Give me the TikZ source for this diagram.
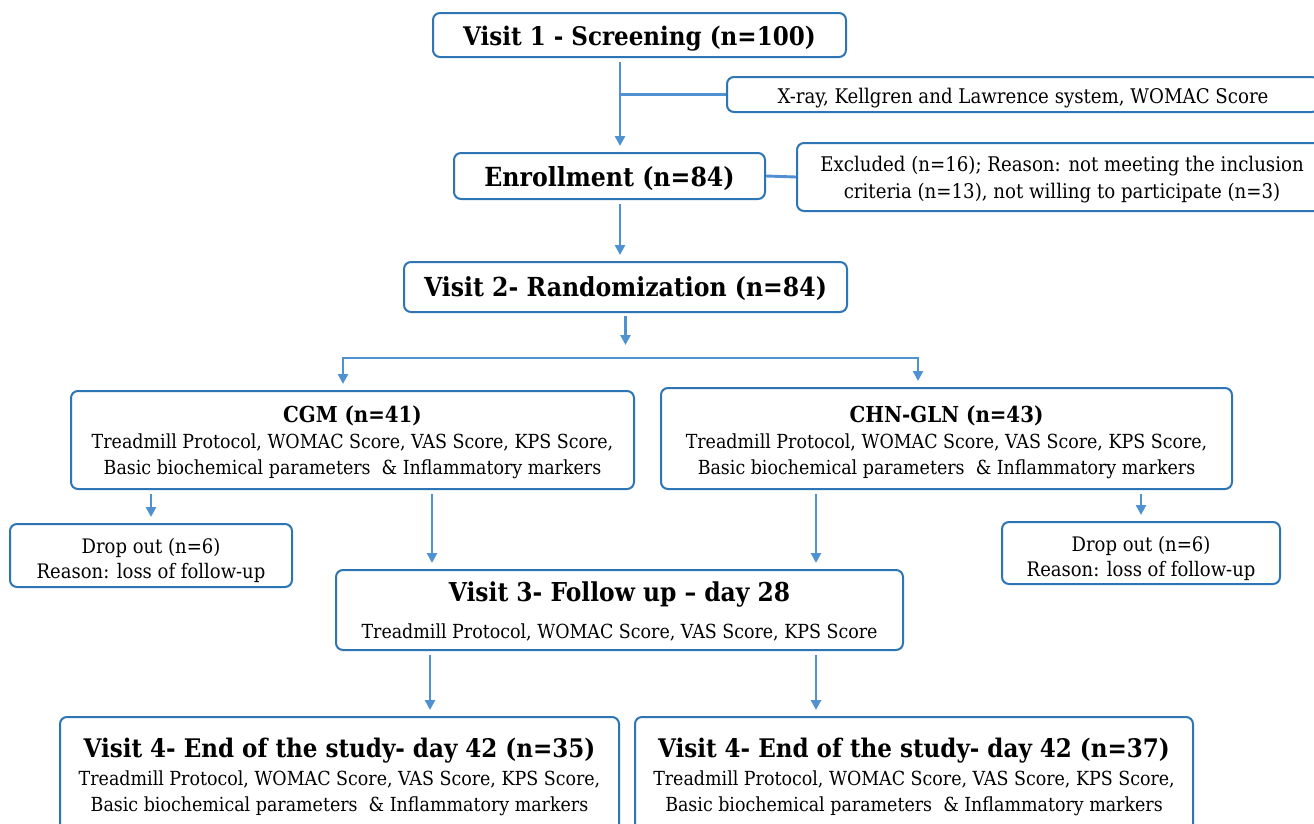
\documentclass[tikz,border=0pt]{standalone}
\usepackage{fontspec}
\setmainfont{DejaVu Serif Condensed}
\usetikzlibrary{arrows.meta}
\definecolor{bd}{RGB}{46,117,182}
\definecolor{ar}{RGB}{80,145,210}
\newcommand\dnstrut[1]{\rule{0pt}{#1}}
\begin{document}
\begin{tikzpicture}[x=1pt,y=-1pt,
  box/.style={draw=bd, line width=2pt, rounded corners=7pt, align=center, inner sep=0pt, fill=white},
  down/.style={execute at begin node={\rule{0pt}{#1}}},
  conn/.style={draw=ar, line width=2.9pt},
  tip/.tip={Triangle[length=10pt,width=10pt]},
  arr/.style={conn, -tip, shorten <=4pt, shorten >=6pt},
  big/.style={font=\fontsize{25.6}{30}\selectfont\bfseries},
  body/.style={font=\fontsize{19.4}{26}\selectfont}]
\clip (0,0) rectangle (1314,823);
% helper x positions
\coordinate (x620) at (620,0);
\coordinate (x432) at (432,0);
\coordinate (x816) at (816,0);
\coordinate (x430) at (430,0);
% boxes
\node[box, big, down=27.5pt, minimum width=413pt, minimum height=44pt] (v1) at (639.5,35) {Visit 1 - Screening (n=100)};
\node[box, body, font=\fontsize{20.2}{26}\selectfont, down=23pt, minimum width=592pt, minimum height=35pt] (xr) at (1023,94.5) {X-ray, Kellgren and Lawrence system, WOMAC Score};
\node[box, big, font=\fontsize{26.3}{30}\selectfont\bfseries, down=26pt, minimum width=311pt, minimum height=46pt] (en) at (609.5,176) {Enrollment (n=84)};
\node[box, body, font=\fontsize{20.2}{27}\selectfont, minimum width=530pt, minimum height=68pt] (ex) at (1062,177) {\dnstrut{20pt}Excluded (n=16); Reason: not meeting the inclusion\\criteria (n=13), not willing to participate (n=3)};
\node[box, big, font=\fontsize{26.2}{30}\selectfont\bfseries, down=24pt, minimum width=443pt, minimum height=50pt] (v2) at (625.5,287) {Visit 2- Randomization (n=84)};
\node[box, body, minimum width=563pt, minimum height=98pt] (cgm) at (352.5,440) {\dnstrut{21pt}{\fontsize{22}{26}\selectfont\bfseries CGM (n=41)}\\Treadmill Protocol, WOMAC Score, VAS Score, KPS Score,\\Basic biochemical parameters~ \& Inflammatory markers};
\node[box, body, minimum width=571pt, minimum height=101pt] (chn) at (946.5,438.5) {\dnstrut{25pt}{\fontsize{22}{26}\selectfont\bfseries CHN-GLN (n=43)}\\Treadmill Protocol, WOMAC Score, VAS Score, KPS Score,\\Basic biochemical parameters~ \& Inflammatory markers};
\node[box, body, font=\fontsize{20}{25}\selectfont, minimum width=282pt, minimum height=63pt] (dl) at (151,555.5) {\dnstrut{26pt}Drop out (n=6)\\Reason: loss of follow-up};
\node[box, body, font=\fontsize{20}{25}\selectfont, minimum width=278pt, minimum height=62pt] (dr) at (1141,553) {\dnstrut{26pt}Drop out (n=6)\\Reason: loss of follow-up};
\node[box, body, minimum width=567pt, minimum height=80pt] (v3) at (619.5,610) {\dnstrut{22pt}{\fontsize{26}{30}\selectfont\bfseries Visit 3- Follow up – day 28}\\[11pt]Treadmill Protocol, WOMAC Score, VAS Score, KPS Score};
\node[box, body, down=22pt, minimum width=559pt, minimum height=120pt] (v4l) at (339.5,777) {{\fontsize{25.6}{30}\selectfont\bfseries Visit 4- End of the study- day 42 (n=35)}\\[2pt]Treadmill Protocol, WOMAC Score, VAS Score, KPS Score,\\Basic biochemical parameters~ \& Inflammatory markers};
\node[box, body, down=22pt, minimum width=558pt, minimum height=120pt] (v4r) at (914,777) {{\fontsize{25.6}{30}\selectfont\bfseries Visit 4- End of the study- day 42 (n=37)}\\[2pt]Treadmill Protocol, WOMAC Score, VAS Score, KPS Score,\\Basic biochemical parameters~ \& Inflammatory markers};
% connectors
\coordinate (j1) at (v1.south -| x620);
\draw[arr] (j1) -- (en.north -| x620);
\draw[conn] (j1 |- xr.west) -- (xr.west);
\draw[conn] (en.east) -- (ex.west);
\draw[arr] (en.south -| x620) -- (v2.north -| x620);
\coordinate (hl) at (343,358);
\coordinate (hr) at (918,358);
\draw[conn, -tip, shorten <=3pt] (v2.south) -- ([yshift=13pt]v2.south |- hl);
\draw[conn, tip-tip, shorten <=6pt, shorten >=6pt] (hl |- cgm.north) -- (hl) -- (hr) -- (hr |- chn.north);
\draw[arr] (cgm.south -| dl.north) -- (dl.north);
\draw[arr] (cgm.south -| x432) -- (v3.north -| x432);
\draw[arr] (chn.south -| x816) -- (v3.north -| x816);
\draw[arr] (chn.south -| dr.north) -- (dr.north);
\draw[arr] (v3.south -| x430) -- (v4l.north -| x430);
\draw[arr] (v3.south -| x816) -- (v4r.north -| x816);
\end{tikzpicture}
\end{document}
